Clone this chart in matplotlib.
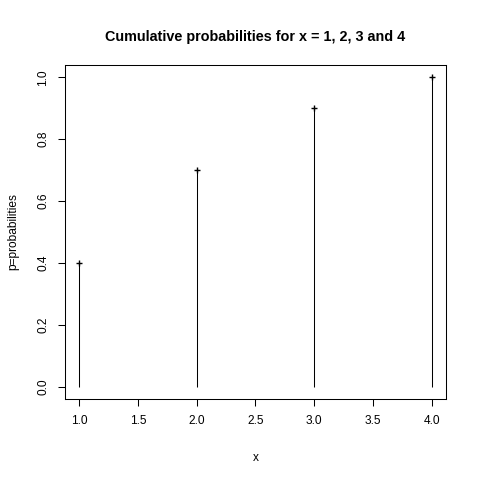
import matplotlib
matplotlib.use("Agg")
import matplotlib.pyplot as plt

plt.rcParams['font.family'] = ['Liberation Sans', 'DejaVu Sans']

# data
x = [1, 2, 3, 4]
p = [0.4, 0.7, 0.9, 1.0]
xticks = [1.0, 1.5, 2.0, 2.5, 3.0, 3.5, 4.0]
yticks = [0.0, 0.2, 0.4, 0.6, 0.8, 1.0]

fig = plt.figure(figsize=(4.8, 4.8), dpi=100)
ax = fig.add_axes([65/480, 1 - 399/480, (446 - 65)/480, (399 - 65)/480])

ax.vlines(x, 0, p, color='black', linewidth=0.75)
ax.plot(x, p, linestyle='none', marker='+', color='black', markersize=5, markeredgewidth=1)

ax.set_xlim(0.88, 4.12)
ax.set_ylim(-0.04, 1.04)
ax.set_xticks(xticks)
ax.set_xticklabels([f"{v:.1f}" for v in xticks])
ax.set_yticks(yticks)
ax.set_yticklabels([f"{v:.1f}" for v in yticks], rotation=90, va='center')
ax.tick_params(direction='out', length=5.2, width=0.75, labelsize=8.6, pad=6)
for s in ax.spines.values():
    s.set_linewidth(0.75)

ax.set_xlabel("x", fontsize=8.6, labelpad=18)
ax.set_ylabel("p=probabilities", fontsize=8.6, labelpad=13)
ax.set_title("Cumulative probabilities for x = 1, 2, 3 and 4", fontsize=10.4,
             fontweight='bold', pad=17)

fig.savefig("out.png", dpi=100)
